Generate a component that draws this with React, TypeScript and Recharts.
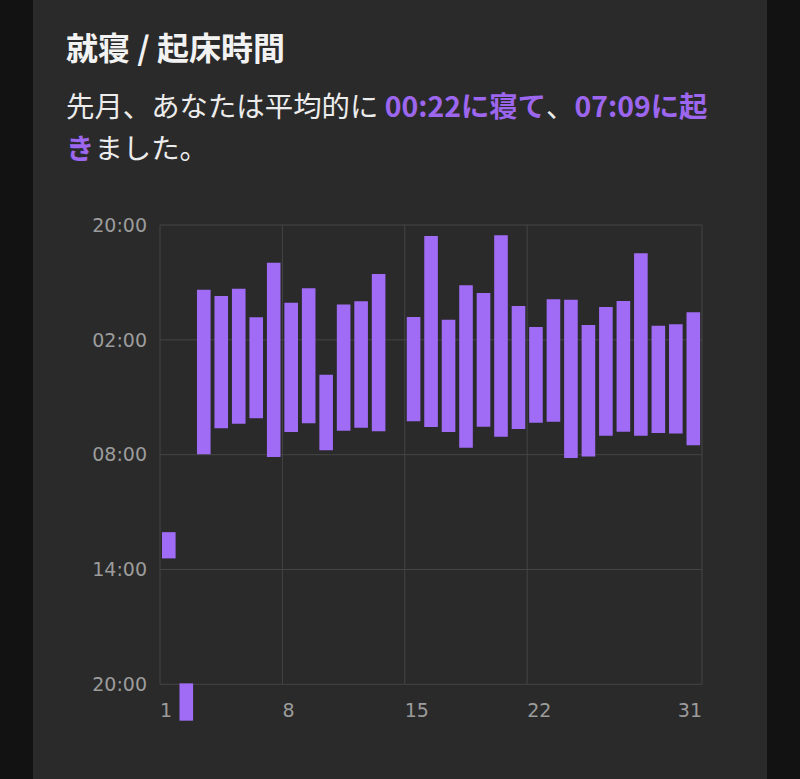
import React from "react";
import { BarChart, Bar, XAxis, YAxis, CartesianGrid, ReferenceLine } from "recharts";

// Hours after 20:00 of the previous day (0 = 20:00, 6 = 02:00, 12 = 08:00, 18 = 14:00, 24 = 20:00)
const days = [1, 2, 3, 4, 5, 6, 7, 8, 9, 10, 11, 12, 13, 14, 15, 16, 17, 18, 19, 20, 21, 22, 23, 24, 25, 26, 27, 28, 29, 30, 31];
const bedTimes: (number | null)[] = [
  16.05, 23.95, 3.38, 3.71, 3.33, 4.82, 1.97, 4.06, 3.31, 7.82, 4.16, 3.99, 2.56, null,
  4.81, 0.57, 4.95, 3.15, 3.55, 0.54, 4.23, 5.33, 3.88, 3.9, 5.23, 4.28, 3.97, 1.48, 5.26, 5.19, 4.56,
];
const wakeTimes: (number | null)[] = [
  17.42, 25.9, 11.98, 10.62, 10.38, 10.1, 12.12, 10.82, 10.36, 11.77, 10.75, 10.59, 10.78, null,
  10.26, 10.56, 10.82, 11.64, 10.54, 11.06, 10.66, 10.33, 10.28, 12.18, 12.09, 11.01, 10.8, 11.01, 10.87, 10.89, 11.51,
];

const yTicks = [0, 6, 12, 18, 24];
const yTickLabels = ["20:00", "02:00", "08:00", "14:00", "20:00"];
const xTicks = [0.5, 7.5, 14.5, 21.5, 31.5];
const xTickLabels = ["1", "8", "15", "22", "31"];

const tableData = days
  .map((d, i) => ({ day: d, range: bedTimes[i] == null || wakeTimes[i] == null ? null : [wakeTimes[i], bedTimes[i]] }))
  .filter((r) => r.range !== null);

const GRID = "#454545";
const TICK = "#9c9c9c";
const BAR = "#a06cf6";
const PURPLE = "#9d66ee";

const XTick = (props: any) => {
  const { x, y, index } = props;
  const last = index === xTicks.length - 1;
  return (
    <text
      x={x}
      y={y - 13}
      dominantBaseline="central"
      textAnchor={last ? "end" : "start"}
      fill={TICK}
      fontSize={19}
      fontFamily="DejaVu Sans, sans-serif"
    >
      {xTickLabels[index]}
    </text>
  );
};

export default function App() {
  return (
    <div style={{ position: "absolute", left: 0, top: 0, width: 800, height: 779, background: "#121212", overflow: "hidden" }}>
      <div style={{ position: "absolute", left: 33, top: 0, width: 734, height: 779, background: "#2a2a2a" }} />
      <div
        style={{
          position: "absolute",
          left: 66,
          top: 30,
          fontFamily: "'Noto Sans CJK JP', sans-serif",
          fontWeight: 700,
          fontSize: 32,
          lineHeight: "32px",
          color: "#f2f2f2",
          whiteSpace: "nowrap",
        }}
      >
        就寝 / 起床時間
      </div>
      <div
        style={{
          position: "absolute",
          left: 66,
          top: 84,
          fontFamily: "'Noto Sans CJK JP', sans-serif",
          fontWeight: 400,
          fontSize: 28.4,
          lineHeight: "42px",
          color: "#ececec",
          whiteSpace: "nowrap",
        }}
      >
        先月、あなたは平均的に <b style={{ color: PURPLE }}>00:22に寝て</b>、<b style={{ color: PURPLE }}>07:09に起</b>
        <br />
        <b style={{ color: PURPLE }}>き</b>ました。
      </div>
      <div style={{ position: "absolute", left: 0, top: 0 }}>
        <BarChart width={800} height={779} data={tableData} margin={{ top: 225, right: 98, bottom: 26.4, left: 0 }}>
          <CartesianGrid vertical={false} syncWithTicks stroke={GRID} strokeWidth={1} />
          {xTicks.map((t) => (
            <ReferenceLine
              key={"v" + t}
              segment={[
                { x: t, y: 0 },
                { x: t, y: 24 },
              ]}
              stroke={GRID}
              strokeWidth={1}
              ifOverflow="visible"
            />
          ))}
          <XAxis
            type="number"
            dataKey="day"
            domain={[0.5, 31.5]}
            ticks={xTicks}
            interval={0}
            axisLine={false}
            tickLine={false}
            tickSize={0}
            tickMargin={0}
            height={30}
            tick={<XTick />}
          />
          <YAxis
            type="number"
            domain={[0, 26]}
            reversed
            ticks={yTicks}
            interval={0}
            width={160}
            axisLine={false}
            tickLine={false}
            tickSize={0}
            tickMargin={13}
            tickFormatter={(v: number) => yTickLabels[yTicks.indexOf(v)]}
            tick={{ fill: TICK, fontSize: 19, fontFamily: "DejaVu Sans, sans-serif" }}
          />
          <Bar dataKey="range" fill={BAR} barSize={13.6} isAnimationActive={false} />
        </BarChart>
      </div>
    </div>
  );
}
